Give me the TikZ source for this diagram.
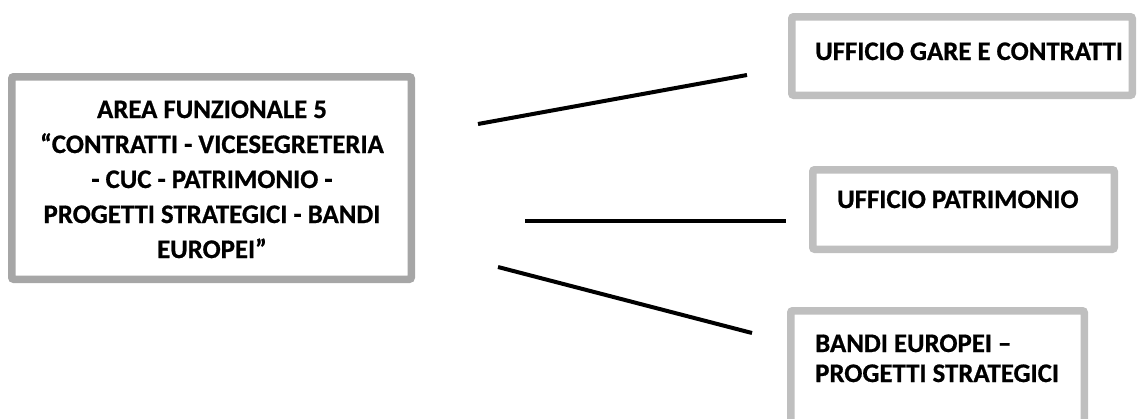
\documentclass[tikz,border=0pt]{standalone}
\usepackage{fontspec}
\setmainfont{Carlito}[BoldFeatures={FakeBold=0.7}]
\definecolor{darkframe}{HTML}{A6A6A6}
\definecolor{lightframe}{HTML}{BFBFBF}
\tikzset{
  framebox/.style={draw=lightframe, line width=7.5pt, rounded corners=2pt, fill=white, inner sep=0pt},
  mainbox/.style={framebox, draw=darkframe},
  boxtext/.style={inner sep=0pt, font=\fontsize{26.8}{35}\selectfont\bfseries},
  link/.style={line width=4pt, black}
}
\begin{document}
\begin{tikzpicture}[x=1pt, y=-1pt]
\useasboundingbox (0,0) rectangle (1139,418);
\clip (0,0) rectangle (1139,418);
% boxes
\node[mainbox, minimum width=399.5pt, minimum height=202.5pt] (main) at (211.5,178) {};
\node[framebox, minimum width=340.5pt, minimum height=78.5pt] (gare) at (962,56) {};
\node[framebox, minimum width=301.5pt, minimum height=79.5pt] (patr) at (963.5,209.5) {};
\node[framebox, minimum width=293.5pt, minimum height=115.5pt] (bandi) at (937.5,368.5) {};
% texts
\node[boxtext, anchor=base] (t1) at (212,118) {AREA FUNZIONALE 5};
\node[boxtext, anchor=base] (t2) at (212,153) {“CONTRATTI - VICESEGRETERIA};
\node[boxtext, anchor=base] (t3) at (212,188) {- CUC - PATRIMONIO -};
\node[boxtext, anchor=base] (t4) at (212,223) {PROGETTI STRATEGICI - BANDI};
\node[boxtext, anchor=base] (t5) at (212,258) {EUROPEI”};
\node[boxtext, anchor=base west] (g1) at (815,60) {UFFICIO GARE E CONTRATTI};
\node[boxtext, anchor=base west] (p1) at (837,208) {UFFICIO PATRIMONIO};
\node[boxtext, anchor=base west] (b1) at (815,352) {BANDI EUROPEI –};
\node[boxtext, anchor=base west] (b2) at (815,382) {PROGETTI STRATEGICI};
% connector end points
\coordinate (a1) at (478,124);
\coordinate (a2) at (747,75);
\coordinate (c1) at (525,221);
\coordinate (c2) at (786,221);
\coordinate (d1) at (498,267);
\coordinate (d2) at (752,333);
\draw[link] (a1) -- (a2);
\draw[link] (c1) -- (c2);
\draw[link] (d1) -- (d2);
\end{tikzpicture}
\end{document}
